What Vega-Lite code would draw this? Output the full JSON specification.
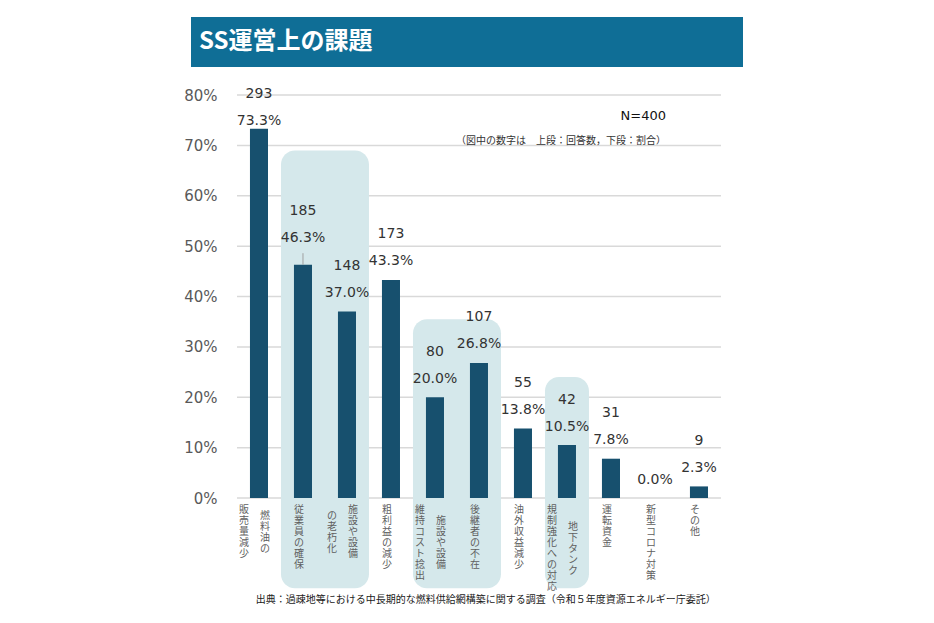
{
  "$schema": "https://vega.github.io/schema/vega-lite/v6.json",
  "padding": {"left": 183, "top": 17, "right": 10, "bottom": 5},
  "background": "white",
  "spacing": 19,
  "config": {"view": {"stroke": null}, "font": "DejaVu Sans"},
  "title": {
    "text": "出典：過疎地等における中長期的な燃料供給網構築に関する調査（令和５年度資源エネルギー庁委託）",
    "orient": "bottom", "anchor": "start", "dx": 72, "offset": 3,
    "font": "Noto Sans CJK JP", "fontSize": 10, "fontWeight": "normal", "color": "#1a1a1a"
  },
  "datasets": {
    "main": [
      {"cat": "燃料油の販売量減少", "n": 293, "share": 0.733},
      {"cat": "従業員の確保", "n": 185, "share": 0.463},
      {"cat": "施設や設備の老朽化", "n": 148, "share": 0.370},
      {"cat": "粗利益の減少", "n": 173, "share": 0.433},
      {"cat": "施設や設備維持コスト捻出", "n": 80, "share": 0.200},
      {"cat": "後継者の不在", "n": 107, "share": 0.268},
      {"cat": "油外収益減少", "n": 55, "share": 0.138},
      {"cat": "地下タンク規制強化への対応", "n": 42, "share": 0.105},
      {"cat": "運転資金", "n": 31, "share": 0.078},
      {"cat": "新型コロナ対策", "n": 0, "share": 0.0},
      {"cat": "その他", "n": 9, "share": 0.023}
    ],
    "gridv": [
      {"v": 0}, {"v": 0.1}, {"v": 0.2}, {"v": 0.3}, {"v": 0.4}, {"v": 0.5}, {"v": 0.6}, {"v": 0.7}, {"v": 0.8}
    ],
    "groups": [
      {"s": "従業員の確保", "e": "施設や設備の老朽化", "top": 0.690, "bottom": -0.179},
      {"s": "施設や設備維持コスト捻出", "e": "後継者の不在", "top": 0.355, "bottom": -0.179},
      {"s": "地下タンク規制強化への対応", "e": "地下タンク規制強化への対応", "top": 0.240, "bottom": -0.179}
    ],
    "labels": [
      {"cat": "燃料油の販売量減少", "col": "L", "t": "販売量減少"},
      {"cat": "燃料油の販売量減少", "col": "R", "t": "燃料油の"},
      {"cat": "従業員の確保", "col": "C", "t": "従業員の確保"},
      {"cat": "施設や設備の老朽化", "col": "R", "t": "施設や設備"},
      {"cat": "施設や設備の老朽化", "col": "L", "t": "の老朽化"},
      {"cat": "粗利益の減少", "col": "C", "t": "粗利益の減少"},
      {"cat": "施設や設備維持コスト捻出", "col": "R", "t": "施設や設備"},
      {"cat": "施設や設備維持コスト捻出", "col": "L", "t": "維持コスト捻出"},
      {"cat": "後継者の不在", "col": "C", "t": "後継者の不在"},
      {"cat": "油外収益減少", "col": "C", "t": "油外収益減少"},
      {"cat": "地下タンク規制強化への対応", "col": "R", "t": "地下タンク"},
      {"cat": "地下タンク規制強化への対応", "col": "L", "t": "規制強化への対応"},
      {"cat": "運転資金", "col": "C", "t": "運転資金"},
      {"cat": "新型コロナ対策", "col": "C", "t": "新型コロナ対策"},
      {"cat": "その他", "col": "C", "t": "その他"}
    ]
  },
  "vconcat": [
    {
      "width": 552, "height": 50,
      "view": {"fill": "#0f6e96", "stroke": null},
      "data": {"values": [{"t": "SS運営上の課題"}]},
      "mark": {"type": "text", "align": "left", "baseline": "middle", "dx": -268,
               "font": "Noto Sans CJK JP", "fontSize": 24, "fontWeight": "bold", "color": "#ffffff"},
      "encoding": {"text": {"field": "t", "type": "nominal"}}
    },
    {
      "width": 552, "height": 403,
      "title": {
        "text": "N=400",
        "subtitle": "（図中の数字は　上段：回答数，下段：割合）",
        "orient": "top", "anchor": "end", "frame": "group", "offset": -59, "dx": -77,
        "font": "DejaVu Sans", "fontSize": 13, "fontWeight": "normal", "color": "#111111",
        "subtitleFont": "Noto Sans CJK JP", "subtitleFontSize": 10, "subtitleColor": "#333333", "subtitlePadding": 13
      },
      "layer": [
        {
          "data": {"name": "gridv"},
          "mark": {"type": "rule", "color": "#d9d9d9", "strokeWidth": 1.5},
          "encoding": {
            "x": {"datum": "燃料油の販売量減少", "type": "nominal", "bandPosition": 0, "axis": null,
                  "scale": {"type": "band", "paddingInner": 0, "paddingOuter": 0.773, "align": 0.676,
                            "domain": ["燃料油の販売量減少","従業員の確保","施設や設備の老朽化","粗利益の減少","施設や設備維持コスト捻出","後継者の不在","油外収益減少","地下タンク規制強化への対応","運転資金","新型コロナ対策","その他"]}},
            "x2": {"datum": "その他", "bandPosition": 1},
            "y": {"field": "v", "type": "quantitative",
                  "scale": {"domain": [0, 0.8], "nice": false, "zero": false},
                  "axis": {"values": [0, 0.1, 0.2, 0.3, 0.4, 0.5, 0.6, 0.7, 0.8], "format": ".0%", "title": null,
                           "grid": false, "domain": false, "ticks": false, "offset": -29, "labelPadding": 3,
                           "labelFont": "DejaVu Sans", "labelFontSize": 15, "labelColor": "#595959"}}
          }
        },
        {
          "data": {"name": "groups"},
          "mark": {"type": "rect", "cornerRadius": 14, "fill": "#d5e8eb"},
          "encoding": {
            "x": {"field": "s", "type": "nominal", "bandPosition": 0},
            "x2": {"field": "e", "bandPosition": 1},
            "y": {"field": "top", "type": "quantitative"},
            "y2": {"field": "bottom"}
          }
        },
        {
          "data": {"name": "main"},
          "mark": {"type": "bar", "width": {"band": 0.41}, "color": "#17506e"},
          "encoding": {
            "x": {"field": "cat", "type": "nominal"},
            "y": {"field": "share", "type": "quantitative"}
          }
        },
        {
          "data": {"name": "main"},
          "transform": [{"filter": "datum.cat === '従業員の確保'"}],
          "mark": {"type": "rule", "color": "#a0a0a0", "strokeWidth": 1},
          "encoding": {
            "x": {"field": "cat", "type": "nominal"},
            "y": {"field": "share", "type": "quantitative"},
            "y2": {"datum": 0.486}
          }
        },
        {
          "data": {"name": "main"},
          "transform": [{"filter": "datum.cat !== '燃料油の販売量減少' && datum.cat !== '従業員の確保'"}],
          "mark": {"type": "text", "baseline": "bottom", "dy": -11.5, "fontSize": 14, "color": "#333333"},
          "encoding": {
            "x": {"field": "cat", "type": "nominal"},
            "y": {"field": "share", "type": "quantitative"},
            "text": {"field": "share", "type": "quantitative", "format": ".1%"}
          }
        },
        {
          "data": {"name": "main"},
          "transform": [{"filter": "datum.cat !== '燃料油の販売量減少' && datum.cat !== '従業員の確保' && datum.n > 0"}],
          "mark": {"type": "text", "baseline": "bottom", "dy": -38.5, "fontSize": 14, "color": "#333333"},
          "encoding": {
            "x": {"field": "cat", "type": "nominal"},
            "y": {"field": "share", "type": "quantitative"},
            "text": {"field": "n", "type": "quantitative"}
          }
        },
        {
          "data": {"name": "main"},
          "transform": [{"filter": "datum.cat === '燃料油の販売量減少'"}],
          "mark": {"type": "text", "baseline": "bottom", "dy": -1, "fontSize": 14, "color": "#333333"},
          "encoding": {
            "x": {"field": "cat", "type": "nominal"},
            "y": {"field": "share", "type": "quantitative"},
            "text": {"field": "share", "type": "quantitative", "format": ".1%"}
          }
        },
        {
          "data": {"name": "main"},
          "transform": [{"filter": "datum.cat === '燃料油の販売量減少'"}],
          "mark": {"type": "text", "baseline": "bottom", "dy": -28, "fontSize": 14, "color": "#333333"},
          "encoding": {
            "x": {"field": "cat", "type": "nominal"},
            "y": {"field": "share", "type": "quantitative"},
            "text": {"field": "n", "type": "quantitative"}
          }
        },
        {
          "data": {"name": "main"},
          "transform": [{"filter": "datum.cat === '従業員の確保'"}],
          "mark": {"type": "text", "baseline": "bottom", "dy": -19.6, "fontSize": 14, "color": "#333333"},
          "encoding": {
            "x": {"field": "cat", "type": "nominal"},
            "y": {"field": "share", "type": "quantitative"},
            "text": {"field": "share", "type": "quantitative", "format": ".1%"}
          }
        },
        {
          "data": {"name": "main"},
          "transform": [{"filter": "datum.cat === '従業員の確保'"}],
          "mark": {"type": "text", "baseline": "bottom", "dy": -46.6, "fontSize": 14, "color": "#333333"},
          "encoding": {
            "x": {"field": "cat", "type": "nominal"},
            "y": {"field": "share", "type": "quantitative"},
            "text": {"field": "n", "type": "quantitative"}
          }
        },
        {
          "data": {"name": "labels"},
          "transform": [{"filter": "datum.col === 'C'"}, {"calculate": "split(datum.t, '')", "as": "lines"}],
          "mark": {"type": "text", "baseline": "top", "align": "center", "dx": -4, "dy": 7, "lineHeight": 11,
                   "font": "Noto Sans CJK JP", "fontSize": 10, "color": "#5f5f5f"},
          "encoding": {
            "x": {"field": "cat", "type": "nominal"},
            "y": {"datum": 0, "type": "quantitative"},
            "text": {"field": "lines", "type": "nominal"}
          }
        },
        {
          "data": {"name": "labels"},
          "transform": [{"filter": "datum.col === 'L' && datum.cat !== '施設や設備の老朽化'"}, {"calculate": "split(datum.t, '')", "as": "lines"}],
          "mark": {"type": "text", "baseline": "top", "align": "center", "dx": -15, "dy": 7, "lineHeight": 11,
                   "font": "Noto Sans CJK JP", "fontSize": 10, "color": "#5f5f5f"},
          "encoding": {
            "x": {"field": "cat", "type": "nominal"},
            "y": {"datum": 0, "type": "quantitative"},
            "text": {"field": "lines", "type": "nominal"}
          }
        },
        {
          "data": {"name": "labels"},
          "transform": [{"filter": "datum.col === 'R' && datum.cat === '施設や設備の老朽化'"}, {"calculate": "split(datum.t, '')", "as": "lines"}],
          "mark": {"type": "text", "baseline": "top", "align": "center", "dx": 6, "dy": 7, "lineHeight": 11,
                   "font": "Noto Sans CJK JP", "fontSize": 10, "color": "#5f5f5f"},
          "encoding": {
            "x": {"field": "cat", "type": "nominal"},
            "y": {"datum": 0, "type": "quantitative"},
            "text": {"field": "lines", "type": "nominal"}
          }
        },
        {
          "data": {"name": "labels"},
          "transform": [{"filter": "datum.col === 'L' && datum.cat === '施設や設備の老朽化'"}, {"calculate": "split(datum.t, '')", "as": "lines"}],
          "mark": {"type": "text", "baseline": "top", "align": "center", "dx": -15, "dy": 12.5, "lineHeight": 11,
                   "font": "Noto Sans CJK JP", "fontSize": 10, "color": "#5f5f5f"},
          "encoding": {
            "x": {"field": "cat", "type": "nominal"},
            "y": {"datum": 0, "type": "quantitative"},
            "text": {"field": "lines", "type": "nominal"}
          }
        },
        {
          "data": {"name": "labels"},
          "transform": [{"filter": "datum.col === 'R' && datum.cat === '燃料油の販売量減少'"}, {"calculate": "split(datum.t, '')", "as": "lines"}],
          "mark": {"type": "text", "baseline": "top", "align": "center", "dx": 6, "dy": 12.5, "lineHeight": 11,
                   "font": "Noto Sans CJK JP", "fontSize": 10, "color": "#5f5f5f"},
          "encoding": {
            "x": {"field": "cat", "type": "nominal"},
            "y": {"datum": 0, "type": "quantitative"},
            "text": {"field": "lines", "type": "nominal"}
          }
        },
        {
          "data": {"name": "labels"},
          "transform": [{"filter": "datum.col === 'R' && datum.cat === '施設や設備維持コスト捻出'"}, {"calculate": "split(datum.t, '')", "as": "lines"}],
          "mark": {"type": "text", "baseline": "top", "align": "center", "dx": 6, "dy": 18, "lineHeight": 11,
                   "font": "Noto Sans CJK JP", "fontSize": 10, "color": "#5f5f5f"},
          "encoding": {
            "x": {"field": "cat", "type": "nominal"},
            "y": {"datum": 0, "type": "quantitative"},
            "text": {"field": "lines", "type": "nominal"}
          }
        },
        {
          "data": {"name": "labels"},
          "transform": [{"filter": "datum.col === 'R' && datum.cat === '地下タンク規制強化への対応'"}, {"calculate": "split(datum.t, '')", "as": "lines"}],
          "mark": {"type": "text", "baseline": "top", "align": "center", "dx": 6, "dy": 23.5, "lineHeight": 11,
                   "font": "Noto Sans CJK JP", "fontSize": 10, "color": "#5f5f5f"},
          "encoding": {
            "x": {"field": "cat", "type": "nominal"},
            "y": {"datum": 0, "type": "quantitative"},
            "text": {"field": "lines", "type": "nominal"}
          }
        }
      ]
    }
  ]
}
